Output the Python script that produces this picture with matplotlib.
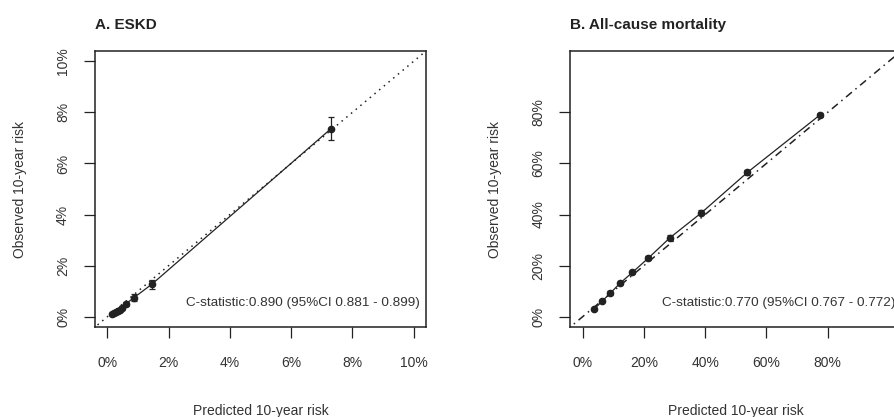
import numpy as np
import matplotlib.pyplot as plt

plt.rcParams['font.family'] = ['Liberation Sans', 'DejaVu Sans']

# ESKD calibration (percent)
eskd_pred = [0.15, 0.22, 0.28, 0.35, 0.42, 0.48, 0.60, 0.86, 1.46, 7.30]
eskd_obs = [0.10, 0.15, 0.20, 0.24, 0.28, 0.34, 0.50, 0.74, 1.28, 7.36]
eskd_lo = [0.07, 0.11, 0.15, 0.19, 0.22, 0.27, 0.41, 0.61, 1.07, 6.92]
eskd_hi = [0.13, 0.19, 0.25, 0.29, 0.34, 0.41, 0.59, 0.88, 1.44, 7.81]
eskd_text = "C-statistic:0.890 (95%CI 0.881 - 0.899)"

# All-cause mortality calibration (percent)
mort_pred = [3.9, 6.4, 9.1, 12.2, 16.3, 21.5, 28.6, 38.8, 53.8, 77.5]
mort_obs = [3.1, 6.1, 9.3, 13.1, 17.4, 23.0, 31.0, 40.7, 56.5, 79.0]
mort_lo = [2.7, 5.6, 8.7, 12.4, 16.7, 22.2, 30.1, 39.8, 55.6, 78.2]
mort_hi = [3.5, 6.6, 9.9, 13.8, 18.1, 23.8, 31.9, 41.6, 57.4, 79.8]
mort_text = "C-statistic:0.770 (95%CI 0.767 - 0.772)"

eskd_ticks = [0, 2, 4, 6, 8, 10]
mort_ticks = [0, 20, 40, 60, 80]

col = '#222222'


def calib_panel(ax, title, pred, obs, lo, hi, ticks, top, diag_style, ctext):
    pad = top * 0.04
    # reference diagonal, clipped to the box
    ax.plot([-top, 2 * top], [-top, 2 * top], color=col, lw=1.1, linestyle=diag_style)
    yerr = [np.array(obs) - np.array(lo), np.array(hi) - np.array(obs)]
    ax.errorbar(pred, obs, yerr=yerr, fmt='o-', color=col, ms=4.5, lw=0.9,
                elinewidth=0.9, capsize=2.5, capthick=0.9)
    ax.set_xlim(-pad, top + pad)
    ax.set_ylim(-pad, top + pad)
    ax.set_xticks(ticks)
    ax.set_yticks(ticks)
    ax.set_xticklabels(['%d%%' % t for t in ticks])
    ax.set_yticklabels(['%d%%' % t for t in ticks], rotation=90, va='center')
    ax.tick_params(length=8, width=0.9, colors=col, labelsize=10, labelcolor='#333333')
    ax.tick_params(axis='x', pad=13)
    ax.tick_params(axis='y', pad=10)
    for s in ax.spines.values():
        s.set_linewidth(1.1)
        s.set_color(col)
    ax.set_xlabel('Predicted 10-year risk', fontsize=10, color='#333333', labelpad=24)
    ax.set_ylabel('Observed 10-year risk', fontsize=10, color='#333333', labelpad=21)
    ax.set_title(title, fontsize=11, fontweight='bold', loc='left', pad=16, color='#222222')
    ax.text(0.982, 0.087, ctext, transform=ax.transAxes, ha='right', va='center',
            fontsize=9.7, color='#333333')


fig = plt.figure(figsize=(8.94, 4.17), dpi=100)
ax1 = fig.add_axes([0.1063, 0.2158, 0.3702, 0.6619])
# right panel runs past the edge, as in the cropped original
ax2 = fig.add_axes([0.6379, 0.2158, 0.3702, 0.6619])

calib_panel(ax1, 'A. ESKD', eskd_pred, eskd_obs, eskd_lo, eskd_hi, eskd_ticks, 10,
            (0, (1, 3)), eskd_text)
calib_panel(ax2, 'B. All-cause mortality', mort_pred, mort_obs, mort_lo, mort_hi, mort_ticks, 100,
            (0, (1, 3, 5, 3)), mort_text)

plt.savefig('out.png', dpi=100)
